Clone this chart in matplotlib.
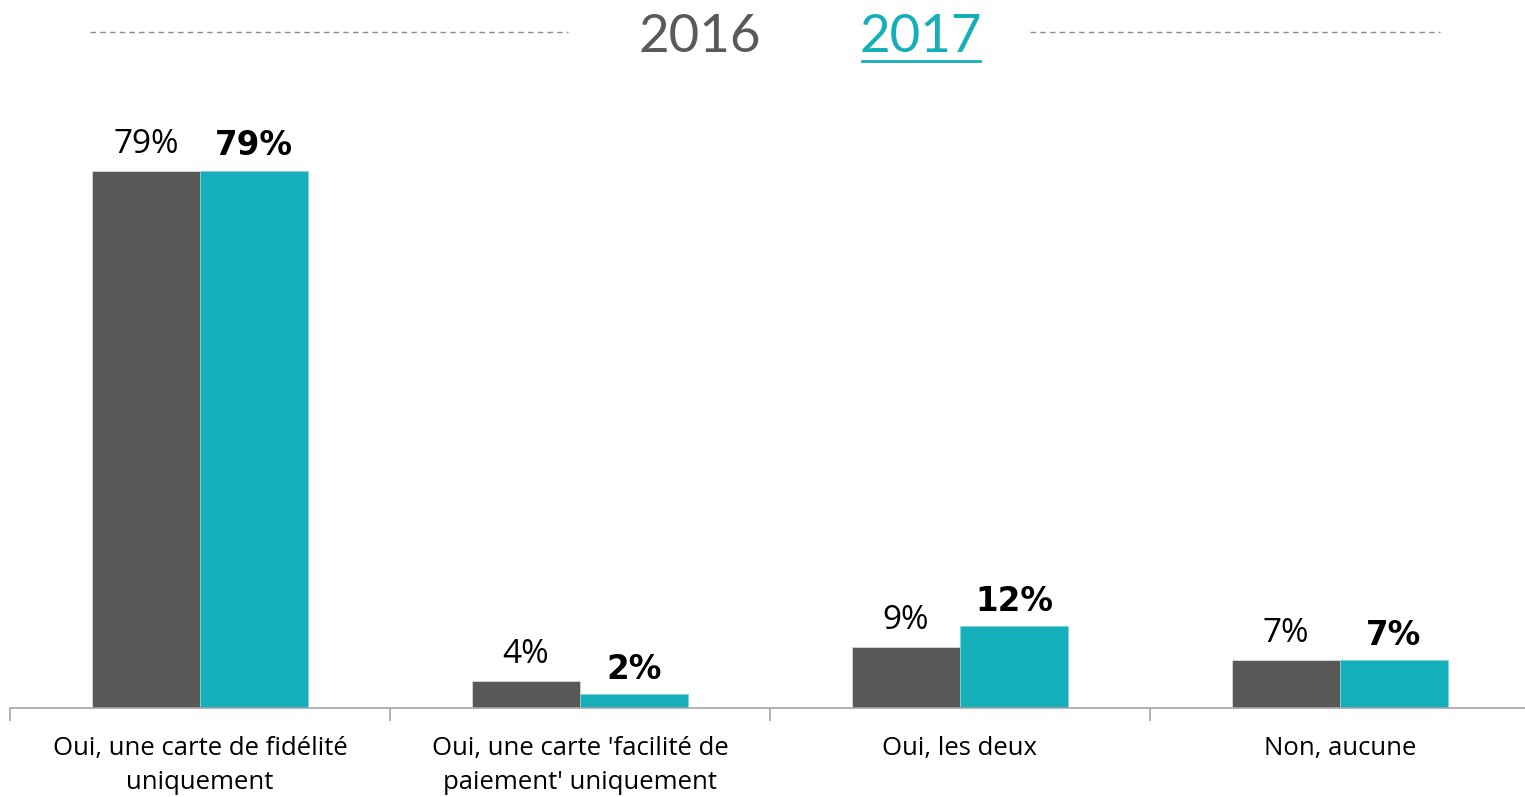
import matplotlib.pyplot as plt
import matplotlib.lines as mlines
import numpy as np

categories = ["Oui, une carte de fidélité\nuniquement",
              "Oui, une carte 'facilité de\npaiement' uniquement",
              "Oui, les deux",
              "Non, aucune"]
values_2016 = [79, 4, 9, 7]
values_2017 = [79, 2, 12, 7]
years = ["2016", "2017"]

GREY = "#595959"
TEAL = "#14AFB8"

fig = plt.figure(figsize=(15.25, 7.97), dpi=100)
ax = fig.add_axes([10 / 1525, 89 / 797, 1520 / 1525, 612 / 797])

x = np.arange(len(categories))
w = 0.284
ax.bar(x - w / 2, values_2016, w, color=GREY, edgecolor="#d9d9d9", linewidth=0.6)
ax.bar(x + w / 2, values_2017, w, color=TEAL, edgecolor="#7fd3d8", linewidth=0.6)

for xi, v in zip(x, values_2016):
    ax.text(xi - w / 2, v + 1.5, f"{v}%", ha="center", va="bottom",
            fontsize=24, family="Open Sans", color="black")
for xi, v in zip(x, values_2017):
    ax.text(xi + w / 2, v + 1.3, f"{v}%", ha="center", va="bottom",
            fontsize=23.5, family="DejaVu Sans", fontweight="bold", color="black")

ax.set_xlim(-0.5, 3.5)
ax.set_ylim(0, 90)
ax.set_yticks([])
for s in ["top", "right", "left"]:
    ax.spines[s].set_visible(False)
ax.spines["bottom"].set_color("#a6a6a6")
ax.spines["bottom"].set_linewidth(1.2)

ax.set_xticks(x)
ax.set_xticklabels(categories, fontsize=18.5, family="Open Sans", linespacing=1.5)
ax.tick_params(axis="x", which="major", length=0, pad=20)
ax.set_xticks(np.arange(-0.5, 4, 1), minor=True)
ax.tick_params(axis="x", which="minor", length=9, color="#a6a6a6", width=1.2)

# header
fig.text(700 / 1525, 1 - 37 / 797, years[0], ha="center", va="center",
         fontsize=38, family="Lato", color=GREY)
fig.text(921 / 1525, 1 - 37 / 797, years[1], ha="center", va="center",
         fontsize=38, family="Lato", color=TEAL)
fig.add_artist(mlines.Line2D([862 / 1525, 980 / 1525], [1 - 61 / 797, 1 - 61 / 797],
                             color=TEAL, linewidth=2))
for x0, x1 in [(90, 568), (1030, 1440)]:
    fig.add_artist(mlines.Line2D([x0 / 1525, x1 / 1525], [1 - 32 / 797, 1 - 32 / 797],
                                 color="#8c8c8c", linewidth=1, linestyle=(0, (4, 3))))

fig.savefig("out.png", dpi=100)
